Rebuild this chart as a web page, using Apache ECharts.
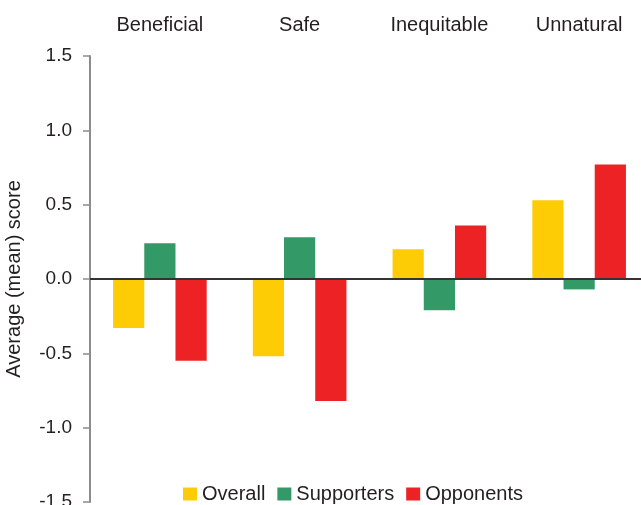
<!DOCTYPE html>
<html>
<head>
<meta charset="utf-8">
<script src="https://cdn.jsdelivr.net/npm/echarts@6/dist/echarts.min.js"></script>
<style>
  html, body { margin: 0; padding: 0; background: #fff; }
  #chart { width: 641px; height: 505px; }
</style>
</head>
<body>
<div id="chart"></div>
<script>
// attitude categories (shown along the top)
const categories = ['Beneficial', 'Safe', 'Inequitable', 'Unnatural'];

// mean scores
const overall = [-0.33, -0.52, 0.20, 0.53];
const supporters = [0.24, 0.28, -0.21, -0.07];
const opponents = [-0.55, -0.82, 0.36, 0.77];

const yTicks = { min: -1.5, max: 1.5, step: 0.5 };

const textColor = '#231f20';
const font = 'Arial, "Liberation Sans", sans-serif';

const chart = echarts.init(document.getElementById('chart'));

const barSeries = (name, data, color) => ({
    name: name,
    type: 'bar',
    data: data,
    barGap: '0%',
    barCategoryGap: '33%',
    itemStyle: { color: color },
    emphasis: { disabled: true }
});

const series = [
    barSeries('Overall', overall, '#fecc04'),
    barSeries('Supporters', supporters, '#339966'),
    barSeries('Opponents', opponents, '#ed2224')
];

// dark zero line across the plot
series[0].markLine = {
    silent: true,
    symbol: 'none',
    label: { show: false },
    lineStyle: { color: '#333', width: 2, type: 'solid' },
    data: [{ yAxis: 0 }]
};

chart.setOption({
    animation: false,
    textStyle: { fontFamily: font },
    grid: { left: 90, right: -8, top: 56, bottom: 3, containLabel: false, outerBoundsMode: 'none' },
    legend: {
        left: 183,
        top: 484,
        padding: 0,
        itemWidth: 14,
        itemHeight: 13,
        itemGap: 12,
        icon: 'rect',
        textStyle: { fontSize: 20, color: textColor, fontFamily: font },
        data: ['Overall', 'Supporters', 'Opponents']
    },
    xAxis: {
        type: 'category',
        position: 'top',
        data: categories,
        axisLine: { show: false },
        axisTick: { show: false },
        axisLabel: { fontSize: 20, color: textColor, margin: 21 }
    },
    yAxis: {
        type: 'value',
        min: yTicks.min,
        max: yTicks.max,
        interval: yTicks.step,
        name: 'Average (mean) score',
        nameLocation: 'middle',
        nameGap: 66,
        nameTextStyle: { fontSize: 20, color: textColor, fontFamily: font },
        axisLine: { show: true, lineStyle: { color: '#8c8c8c', width: 2 } },
        axisTick: { show: true, length: 7, lineStyle: { color: '#8c8c8c', width: 1.5 } },
        axisLabel: {
            fontSize: 19,
            color: textColor,
            margin: 18,
            formatter: v => v.toFixed(1)
        },
        splitLine: { show: false }
    },
    series: series
});
</script>
</body>
</html>
